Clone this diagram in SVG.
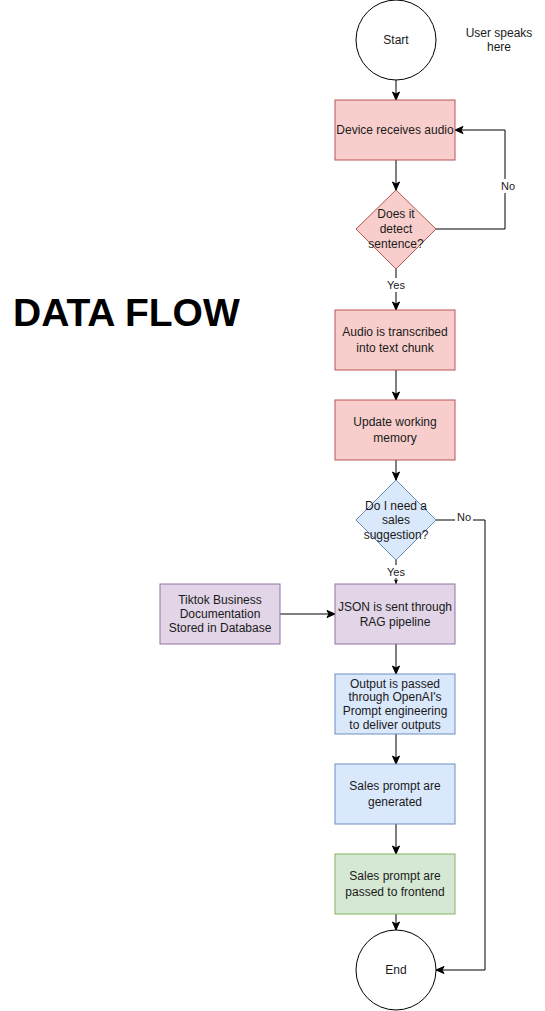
<svg xmlns="http://www.w3.org/2000/svg" width="545" height="1011" viewBox="0 0 545 1011">
<style>
text{font-family:"Liberation Sans",Arial,Helvetica,sans-serif;font-size:12px;fill:#1a1a1a;text-anchor:middle}
.title{font-size:39px;font-weight:bold;fill:#000;text-anchor:start}
.lbl{font-size:11px}
.term{fill:#fff;stroke:#000;stroke-width:1}
.pink{fill:#f8cecc;stroke:#b85450;stroke-width:1}
.blue{fill:#dae8fc;stroke:#6c8ebf;stroke-width:1}
.purple{fill:#e1d5e7;stroke:#9673a6;stroke-width:1}
.green{fill:#d5e8d4;stroke:#82b366;stroke-width:1}
.edge{fill:none;stroke:#000;stroke-width:1}
.bg{fill:#fff}
</style>
<defs>
<marker id="arr" markerUnits="userSpaceOnUse" markerWidth="10" markerHeight="10" viewBox="0 0 10 10" refX="9" refY="5" orient="auto">
<path d="M1,1.5 L9,5 L1,8.5 L3,5 z" fill="#000" stroke="#000" stroke-width="1"/>
</marker>
<marker id="arrs" markerUnits="userSpaceOnUse" markerWidth="6" markerHeight="6" viewBox="0 0 10 10" refX="9" refY="5" orient="auto">
<path d="M1,1.5 L9,5 L1,8.5 L3,5 z" fill="#000"/>
</marker>
</defs>
<rect width="545" height="1011" fill="#fff"/>
<text class="title" x="13" y="326">DATA FLOW</text>
<text x="499" y="37">User speaks</text>
<text x="499" y="51">here</text>

<g id="connectors">
<line class="edge" x1="396" y1="80" x2="396" y2="100" marker-end="url(#arr)"/>
<line class="edge" x1="396" y1="160" x2="396" y2="190" marker-end="url(#arr)"/>
<path class="edge" d="M436,229 H505 V130 H455" marker-end="url(#arr)"/>
<rect class="bg" x="499" y="179" width="18" height="14"/>
<text class="lbl" x="508" y="190">No</text>
<line class="edge" x1="396" y1="269" x2="396" y2="310" marker-end="url(#arr)"/>
<rect class="bg" x="385" y="278" width="22" height="14"/>
<text class="lbl" x="396" y="289">Yes</text>
<line class="edge" x1="396" y1="370" x2="396" y2="400" marker-end="url(#arr)"/>
<line class="edge" x1="396" y1="460" x2="396" y2="480" marker-end="url(#arr)"/>
<path class="edge" d="M436,520 H485 V970 H436" marker-end="url(#arr)"/>
<rect class="bg" x="455" y="511" width="18" height="13"/>
<text class="lbl" x="464" y="521">No</text>
<line class="edge" x1="396" y1="560" x2="396" y2="584" marker-end="url(#arrs)"/>
<rect class="bg" x="385" y="565" width="22" height="13"/>
<text class="lbl" x="396" y="576">Yes</text>
<line class="edge" x1="280" y1="614" x2="335" y2="614" marker-end="url(#arr)"/>
<line class="edge" x1="396" y1="644" x2="396" y2="674" marker-end="url(#arr)"/>
<line class="edge" x1="396" y1="734" x2="396" y2="764" marker-end="url(#arr)"/>
<line class="edge" x1="396" y1="824" x2="396" y2="854" marker-end="url(#arr)"/>
<line class="edge" x1="396" y1="914" x2="396" y2="930" marker-end="url(#arr)"/>
</g>

<g id="start">
<circle class="term" cx="396" cy="40" r="40"/>
<text x="396" y="44">Start</text>
</g>
<g id="device">
<rect class="pink" x="335" y="100" width="120" height="60"/>
<text x="395" y="134">Device receives audio</text>
</g>
<g id="detect">
<polygon class="pink" points="396,190 436,229 396,269 356,229"/>
<text x="396" y="218">Does it</text>
<text x="396" y="233">detect</text>
<text x="396" y="248">sentence?</text>
</g>
<g id="transcribe">
<rect class="pink" x="335" y="310" width="120" height="60"/>
<text x="395" y="336">Audio is transcribed</text>
<text x="395" y="352">into text chunk</text>
</g>
<g id="memory">
<rect class="pink" x="335" y="400" width="120" height="60"/>
<text x="395" y="426">Update working</text>
<text x="395" y="442">memory</text>
</g>
<g id="need">
<polygon class="blue" points="396,480 436,520 396,560 356,520"/>
<text x="396" y="510">Do I need a</text>
<text x="396" y="524">sales</text>
<text x="396" y="539">suggestion?</text>
</g>
<g id="tiktok">
<rect class="purple" x="160" y="584" width="120" height="60"/>
<text x="220" y="604">Tiktok Business</text>
<text x="220" y="618">Documentation</text>
<text x="220" y="632">Stored in Database</text>
</g>
<g id="json">
<rect class="purple" x="335" y="584" width="120" height="60"/>
<text x="395" y="611">JSON is sent through</text>
<text x="395" y="626">RAG pipeline</text>
</g>
<g id="output">
<rect class="blue" x="335" y="674" width="120" height="60"/>
<text x="395" y="688">Output is passed</text>
<text x="395" y="701">through OpenAI's</text>
<text x="395" y="715">Prompt engineering</text>
<text x="395" y="729">to deliver outputs</text>
</g>
<g id="generated">
<rect class="blue" x="335" y="764" width="120" height="60"/>
<text x="395" y="790">Sales prompt are</text>
<text x="395" y="806">generated</text>
</g>
<g id="frontend">
<rect class="green" x="335" y="854" width="120" height="60"/>
<text x="395" y="880">Sales prompt are</text>
<text x="395" y="896">passed to frontend</text>
</g>
<g id="end">
<circle class="term" cx="396" cy="970" r="40"/>
<text x="396" y="974">End</text>
</g>
</svg>
